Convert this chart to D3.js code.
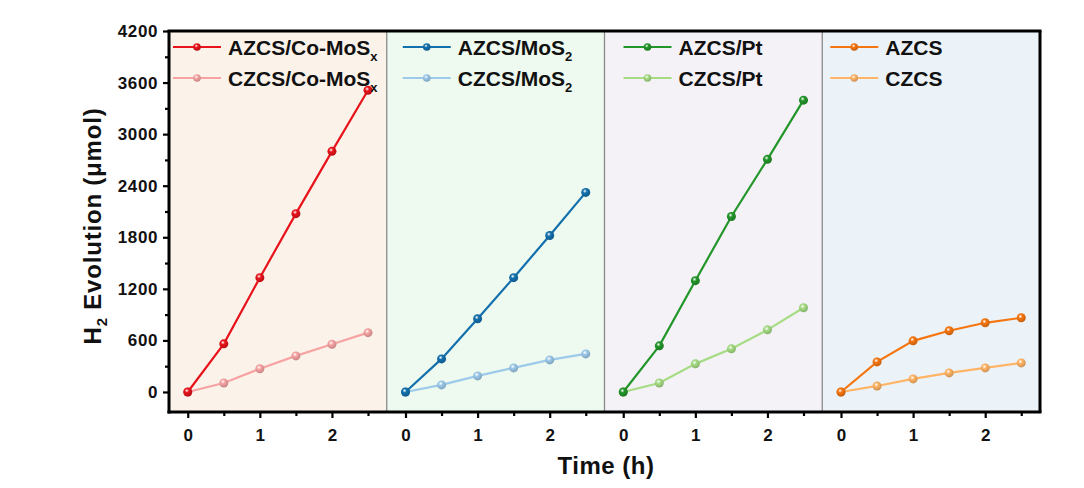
<!DOCTYPE html>
<html>
<head>
<meta charset="utf-8">
<script src="https://cdn.jsdelivr.net/npm/d3@7"></script>
<style>
  body { margin: 0; background: #fff; }
  text { font-family: "Liberation Sans", Arial, sans-serif; font-weight: bold; }
</style>
</head>
<body>
<script>
// data
const times = [0, 0.5, 1, 1.5, 2, 2.5];
const panelNames = ["CoMoSx", "MoS2", "Pt", "bare"];
const azcsCoMoSx = [0, 560, 1330, 2075, 2800, 3510];
const czcsCoMoSx = [0, 105, 270, 420, 555, 690];
const azcsMoS2 = [0, 385, 852, 1330, 1820, 2322];
const czcsMoS2 = [0, 82, 187, 280, 373, 443];
const azcsPt = [0, 537, 1295, 2042, 2707, 3395];
const czcsPt = [0, 105, 327, 502, 723, 980];
const azcs = [0, 350, 595, 712, 805, 863];
const czcs = [0, 70, 152, 222, 280, 338];
const yTicks = [0, 600, 1200, 1800, 2400, 3000, 3600, 4200];
const xTicks = [0, 1, 2];

const width = 1084;
const height = 488;
const margin = { top: 31, right: 44, bottom: 76, left: 169 };
const innerWidth = width - margin.left - margin.right;
const innerHeight = height - margin.top - margin.bottom;

// ! panel setup: name, background, legend offset, two series [label, sub, values, colour]
const panels = [
  { name: "CoMoSx", bg: "#fbf3ea", lx: 4, series: [
    ["AZCS/Co-MoS", "x", azcsCoMoSx, "#e8131b"],
    ["CZCS/Co-MoS", "x", czcsCoMoSx, "#f7a3a3"]] },
  { name: "MoS2", bg: "#eefaef", lx: 16, series: [
    ["AZCS/MoS", "2", azcsMoS2, "#1370ad"],
    ["CZCS/MoS", "2", czcsMoS2, "#9dc9ea"]] },
  { name: "Pt", bg: "#f4f2f7", lx: 19, series: [
    ["AZCS/Pt", "", azcsPt, "#23962a"],
    ["CZCS/Pt", "", czcsPt, "#a6dc84"]] },
  { name: "bare", bg: "#ecf3f8", lx: 8, series: [
    ["AZCS", "", azcs, "#f57610"],
    ["CZCS", "", czcs, "#ffb466"]] }
];

const svg = d3.select("body").append("svg")
  .attr("width", width)
  .attr("height", height);

const defs = svg.append("defs");
panels.forEach((p, pi) => p.series.forEach((s, si) => {
  const g = defs.append("radialGradient")
    .attr("id", `ball${pi}${si}`)
    .attr("cx", "40%").attr("cy", "35%").attr("r", "65%");
  g.append("stop").attr("offset", "0%").attr("stop-color", "#fff");
  g.append("stop").attr("offset", "35%").attr("stop-color", s[3]);
  g.append("stop").attr("offset", "100%").attr("stop-color", d3.color(s[3]).darker(0.6));
}));

const g = svg.append("g").attr("transform", `translate(${margin.left},${margin.top})`);

const panelScale = d3.scaleBand().domain(panelNames).range([0, innerWidth]).padding(0);
const yScale = d3.scaleLinear().domain([-233, 4200]).range([innerHeight, 0]);
const xScale = d3.scaleLinear().domain([-0.26, 2.76]).range([0, panelScale.bandwidth()]);

const line = d3.line()
  .x((d, i) => xScale(times[i]))
  .y(d => yScale(d));

panels.forEach((p, pi) => {
  const pg = g.append("g").attr("transform", `translate(${panelScale(p.name)},0)`);
  pg.append("rect")
    .attr("width", panelScale.bandwidth())
    .attr("height", innerHeight)
    .attr("fill", p.bg);
  if (pi > 0) {
    pg.append("line")
      .attr("x1", 0).attr("x2", 0)
      .attr("y1", 0).attr("y2", innerHeight)
      .attr("stroke", "#8a8a8a").attr("stroke-width", 1.3);
  }

  // lines, light one underneath
  p.series.slice().reverse().forEach((s, k) => {
    const si = 1 - k;
    pg.append("path")
      .datum(s[2])
      .attr("d", line)
      .attr("fill", "none")
      .attr("stroke", s[3])
      .attr("stroke-width", 2.2);
    pg.selectAll(null)
      .data(s[2])
      .enter()
      .append("circle")
      .attr("cx", (d, i) => xScale(times[i]))
      .attr("cy", d => yScale(d))
      .attr("r", 4.5)
      .attr("fill", `url(#ball${pi}${si})`);
  });

  // legend
  p.series.forEach((s, si) => {
    const ly = 16 + si * 31;
    const lg = pg.append("g").attr("transform", `translate(${p.lx},${ly})`);
    lg.append("line")
      .attr("x1", 0).attr("x2", 48)
      .attr("y1", 0).attr("y2", 0)
      .attr("stroke", s[3]).attr("stroke-width", 2.2);
    lg.append("circle")
      .attr("cx", 24).attr("cy", 0).attr("r", 3.8)
      .attr("fill", `url(#ball${pi}${si})`);
    const t = lg.append("text")
      .attr("x", 55).attr("y", 7.5)
      .attr("font-size", 21)
      .attr("fill", "#111")
      .text(s[0]);
    if (s[1]) {
      t.append("tspan")
        .attr("dy", 6)
        .attr("font-size", 13)
        .text(s[1]);
    }
  });

  // x axis of this panel
  const xAxisG = pg.append("g")
    .attr("transform", `translate(0,${innerHeight})`)
    .call(d3.axisBottom(xScale).tickValues(xTicks).tickFormat(d3.format("d")).tickSize(6).tickSizeOuter(0));
  xAxisG.append("g")
    .call(d3.axisBottom(xScale).tickValues([0.5, 1.5, 2.5]).tickFormat("").tickSize(4).tickSizeOuter(0));
  xAxisG.selectAll(".domain").remove();
  xAxisG.selectAll(".tick line").attr("stroke", "#000").attr("stroke-width", 2.2);
  xAxisG.selectAll(".tick text")
    .attr("font-size", 17)
    .attr("fill", "#111")
    .attr("dy", "1.15em");
});

// ! y axis
const yAxisG = g.append("g")
  .call(d3.axisLeft(yScale).tickValues(yTicks).tickFormat(d3.format("d")).tickSize(6).tickSizeOuter(0).tickPadding(5));
yAxisG.append("g")
  .call(d3.axisLeft(yScale).tickValues(yTicks.slice(0, -1).map(v => v + 300)).tickFormat("").tickSize(4).tickSizeOuter(0));
yAxisG.selectAll(".domain").remove();
yAxisG.selectAll(".tick line").attr("stroke", "#000").attr("stroke-width", 2.2);
yAxisG.selectAll(".tick text")
  .attr("font-size", 17)
  .attr("letter-spacing", 0.6)
  .attr("fill", "#111");

// frame
g.append("line").attr("x1", 0).attr("x2", 0).attr("y1", -1).attr("y2", innerHeight + 1.5)
  .attr("stroke", "#000").attr("stroke-width", 3);
g.append("line").attr("x1", -1.5).attr("x2", innerWidth + 1.5).attr("y1", innerHeight).attr("y2", innerHeight)
  .attr("stroke", "#000").attr("stroke-width", 3);
g.append("line").attr("x1", -1.5).attr("x2", innerWidth + 1.5).attr("y1", 0).attr("y2", 0)
  .attr("stroke", "#000").attr("stroke-width", 3);
g.append("line").attr("x1", innerWidth).attr("x2", innerWidth).attr("y1", 0).attr("y2", innerHeight)
  .attr("stroke", "#000").attr("stroke-width", 3);

// ! axis labels
const yLab = svg.append("text")
  .attr("transform", `translate(101,226) rotate(-90)`)
  .attr("text-anchor", "middle")
  .attr("font-size", 24)
  .attr("letter-spacing", 0.8)
  .attr("fill", "#111");
yLab.append("tspan").text("H");
yLab.append("tspan").attr("dy", 6).attr("font-size", 15).text("2");
yLab.append("tspan").attr("dy", -6).text(" Evolution (μmol)");

svg.append("text")
  .attr("x", 606)
  .attr("y", 474)
  .attr("text-anchor", "middle")
  .attr("font-size", 24)
  .attr("letter-spacing", 0.5)
  .attr("fill", "#111")
  .text("Time (h)");
</script>
</body>
</html>
